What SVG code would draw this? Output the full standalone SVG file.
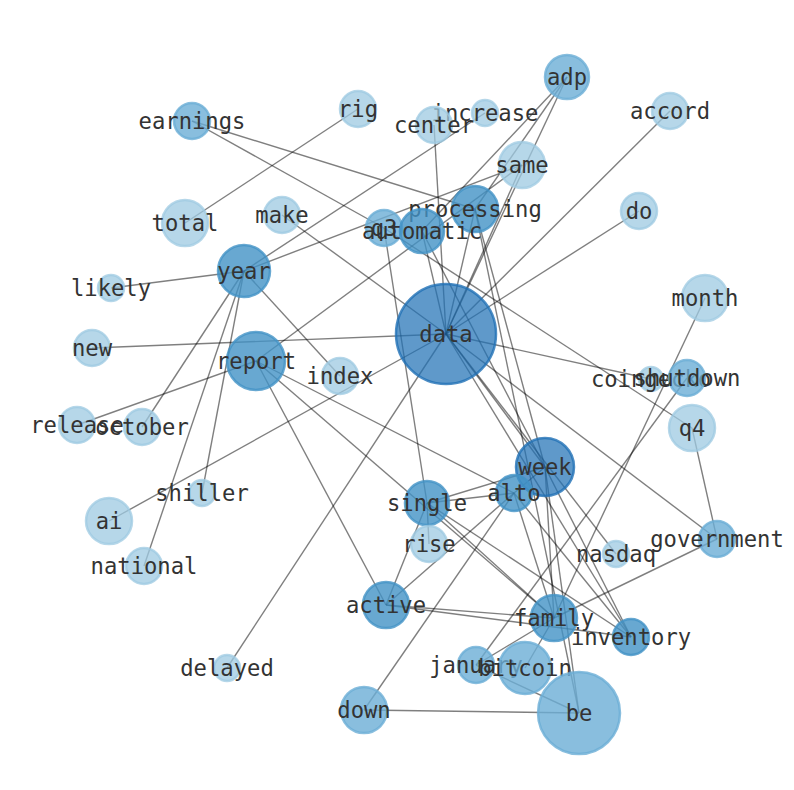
<svg xmlns="http://www.w3.org/2000/svg" width="794" height="790" viewBox="0 0 794 790">
<style>
.e line{stroke:#000;stroke-opacity:0.5;stroke-width:1.4}
.n circle{stroke-width:2.5}
.a{fill:#9ecae1;stroke:#9ecae1;fill-opacity:0.75;stroke-opacity:0.75}
.b{fill:#6baed6;stroke:#6baed6;fill-opacity:0.8;stroke-opacity:0.8}
.c{fill:#4292c6;stroke:#4292c6;fill-opacity:0.8;stroke-opacity:0.8}
.d{fill:#2171b5;stroke:#2171b5;fill-opacity:0.72;stroke-opacity:0.8}
text{font-family:"DejaVu Sans Mono","Liberation Mono",monospace;font-size:22.2px;fill:#333;text-anchor:middle;dominant-baseline:central}
</style>
<rect width="794" height="790" fill="#fff"/>
<g id="edges" class="e">
<line x1="446" y1="334" x2="92" y2="348"/>
<line x1="446" y1="334" x2="282" y2="215"/>
<line x1="446" y1="334" x2="434" y2="125"/>
<line x1="446" y1="334" x2="422" y2="231"/>
<line x1="446" y1="334" x2="475" y2="209"/>
<line x1="446" y1="334" x2="522" y2="165"/>
<line x1="446" y1="334" x2="567" y2="77"/>
<line x1="446" y1="334" x2="670" y2="111"/>
<line x1="446" y1="334" x2="639" y2="211"/>
<line x1="446" y1="334" x2="651" y2="379"/>
<line x1="446" y1="334" x2="109" y2="521"/>
<line x1="446" y1="334" x2="227" y2="668"/>
<line x1="446" y1="334" x2="545" y2="467"/>
<line x1="446" y1="334" x2="717" y2="539"/>
<line x1="446" y1="334" x2="631" y2="637"/>
<line x1="446" y1="334" x2="616" y2="554"/>
<line x1="244" y1="271" x2="111" y2="288"/>
<line x1="244" y1="271" x2="485" y2="113"/>
<line x1="244" y1="271" x2="522" y2="165"/>
<line x1="244" y1="271" x2="340" y2="376"/>
<line x1="244" y1="271" x2="142" y2="427"/>
<line x1="244" y1="271" x2="202" y2="493"/>
<line x1="244" y1="271" x2="144" y2="566"/>
<line x1="256" y1="361" x2="77" y2="425"/>
<line x1="256" y1="361" x2="522" y2="165"/>
<line x1="256" y1="361" x2="386" y2="605"/>
<line x1="256" y1="361" x2="554" y2="618"/>
<line x1="256" y1="361" x2="514" y2="493"/>
<line x1="192" y1="121" x2="475" y2="209"/>
<line x1="192" y1="121" x2="384" y2="228"/>
<line x1="185" y1="223" x2="358" y2="109"/>
<line x1="384" y1="228" x2="692" y2="428"/>
<line x1="384" y1="228" x2="427" y2="503"/>
<line x1="422" y1="231" x2="567" y2="77"/>
<line x1="422" y1="231" x2="545" y2="467"/>
<line x1="475" y1="209" x2="567" y2="77"/>
<line x1="475" y1="209" x2="545" y2="467"/>
<line x1="475" y1="209" x2="579" y2="713"/>
<line x1="545" y1="467" x2="427" y2="503"/>
<line x1="545" y1="467" x2="514" y2="493"/>
<line x1="545" y1="467" x2="554" y2="618"/>
<line x1="545" y1="467" x2="579" y2="713"/>
<line x1="545" y1="467" x2="631" y2="637"/>
<line x1="427" y1="503" x2="514" y2="493"/>
<line x1="427" y1="503" x2="554" y2="618"/>
<line x1="427" y1="503" x2="631" y2="637"/>
<line x1="427" y1="503" x2="386" y2="605"/>
<line x1="427" y1="503" x2="429" y2="544"/>
<line x1="514" y1="493" x2="386" y2="605"/>
<line x1="514" y1="493" x2="364" y2="710"/>
<line x1="514" y1="493" x2="554" y2="618"/>
<line x1="514" y1="493" x2="631" y2="637"/>
<line x1="386" y1="605" x2="554" y2="618"/>
<line x1="386" y1="605" x2="631" y2="637"/>
<line x1="554" y1="618" x2="476" y2="665"/>
<line x1="554" y1="618" x2="525" y2="668"/>
<line x1="554" y1="618" x2="717" y2="539"/>
<line x1="554" y1="618" x2="705" y2="298"/>
<line x1="687" y1="378" x2="476" y2="665"/>
<line x1="692" y1="428" x2="717" y2="539"/>
<line x1="579" y1="713" x2="364" y2="710"/>
<line x1="579" y1="713" x2="476" y2="665"/>
</g>
<g id="n-rig" class="n"><circle class="a" cx="358" cy="109" r="18"/><text x="358" y="109">rig</text></g>
<g id="n-increase" class="n"><circle class="a" cx="485" cy="113" r="13"/><text x="485" y="113">increase</text></g>
<g id="n-center" class="n"><circle class="a" cx="434" cy="125" r="18"/><text x="434" y="125">center</text></g>
<g id="n-earnings" class="n"><circle class="b" cx="192" cy="121" r="18"/><text x="192" y="121">earnings</text></g>
<g id="n-adp" class="n"><circle class="b" cx="567" cy="77" r="22"/><text x="567" y="77">adp</text></g>
<g id="n-accord" class="n"><circle class="a" cx="670" cy="111" r="18"/><text x="670" y="111">accord</text></g>
<g id="n-same" class="n"><circle class="a" cx="522" cy="165" r="23"/><text x="522" y="165">same</text></g>
<g id="n-processing" class="n"><circle class="c" cx="475" cy="209" r="23"/><text x="475" y="209">processing</text></g>
<g id="n-do" class="n"><circle class="a" cx="639" cy="211" r="18"/><text x="639" y="211">do</text></g>
<g id="n-total" class="n"><circle class="a" cx="185" cy="223" r="23"/><text x="185" y="223">total</text></g>
<g id="n-make" class="n"><circle class="a" cx="282" cy="215" r="18"/><text x="282" y="215">make</text></g>
<g id="n-q3" class="n"><circle class="b" cx="384" cy="228" r="18"/><text x="384" y="228">q3</text></g>
<g id="n-automatic" class="n"><circle class="c" cx="422" cy="231" r="22"/><text x="422" y="231">automatic</text></g>
<g id="n-year" class="n"><circle class="c" cx="244" cy="271" r="26"/><text x="244" y="271">year</text></g>
<g id="n-likely" class="n"><circle class="a" cx="111" cy="288" r="13"/><text x="111" y="288">likely</text></g>
<g id="n-month" class="n"><circle class="a" cx="705" cy="298" r="23"/><text x="705" y="298">month</text></g>
<g id="n-new" class="n"><circle class="a" cx="92" cy="348" r="18"/><text x="92" y="348">new</text></g>
<g id="n-data" class="n"><circle class="d" cx="446" cy="334" r="50"/><text x="446" y="334">data</text></g>
<g id="n-report" class="n"><circle class="c" cx="256" cy="361" r="29"/><text x="256" y="361">report</text></g>
<g id="n-index" class="n"><circle class="a" cx="340" cy="376" r="18"/><text x="340" y="376">index</text></g>
<g id="n-coingecko" class="n"><circle class="a" cx="651" cy="379" r="12"/><text x="651" y="379">coingecko</text></g>
<g id="n-shutdown" class="n"><circle class="b" cx="687" cy="378" r="18"/><text x="687" y="378">shutdown</text></g>
<g id="n-release" class="n"><circle class="a" cx="77" cy="425" r="18"/><text x="77" y="425">release</text></g>
<g id="n-october" class="n"><circle class="a" cx="142" cy="427" r="18"/><text x="142" y="427">october</text></g>
<g id="n-q4" class="n"><circle class="a" cx="692" cy="428" r="23"/><text x="692" y="428">q4</text></g>
<g id="n-week" class="n"><circle class="d" cx="545" cy="467" r="29"/><text x="545" y="467">week</text></g>
<g id="n-alto" class="n"><circle class="c" cx="514" cy="493" r="18"/><text x="514" y="493">alto</text></g>
<g id="n-shiller" class="n"><circle class="a" cx="202" cy="493" r="13"/><text x="202" y="493">shiller</text></g>
<g id="n-single" class="n"><circle class="c" cx="427" cy="503" r="22"/><text x="427" y="503">single</text></g>
<g id="n-ai" class="n"><circle class="a" cx="109" cy="521" r="23"/><text x="109" y="521">ai</text></g>
<g id="n-rise" class="n"><circle class="a" cx="429" cy="544" r="18"/><text x="429" y="544">rise</text></g>
<g id="n-government" class="n"><circle class="b" cx="717" cy="539" r="18"/><text x="717" y="539">government</text></g>
<g id="n-nasdaq" class="n"><circle class="a" cx="616" cy="554" r="13"/><text x="616" y="554">nasdaq</text></g>
<g id="n-national" class="n"><circle class="a" cx="144" cy="566" r="18"/><text x="144" y="566">national</text></g>
<g id="n-active" class="n"><circle class="c" cx="386" cy="605" r="23"/><text x="386" y="605">active</text></g>
<g id="n-family" class="n"><circle class="c" cx="554" cy="618" r="23"/><text x="554" y="618">family</text></g>
<g id="n-inventory" class="n"><circle class="c" cx="631" cy="637" r="18"/><text x="631" y="637">inventory</text></g>
<g id="n-delayed" class="n"><circle class="a" cx="227" cy="668" r="13"/><text x="227" y="668">delayed</text></g>
<g id="n-january" class="n"><circle class="b" cx="476" cy="665" r="18"/><text x="476" y="665">january</text></g>
<g id="n-bitcoin" class="n"><circle class="b" cx="525" cy="668" r="26"/><text x="525" y="668">bitcoin</text></g>
<g id="n-down" class="n"><circle class="b" cx="364" cy="710" r="23"/><text x="364" y="710">down</text></g>
<g id="n-be" class="n"><circle class="b" cx="579" cy="713" r="41"/><text x="579" y="713">be</text></g>
</svg>
